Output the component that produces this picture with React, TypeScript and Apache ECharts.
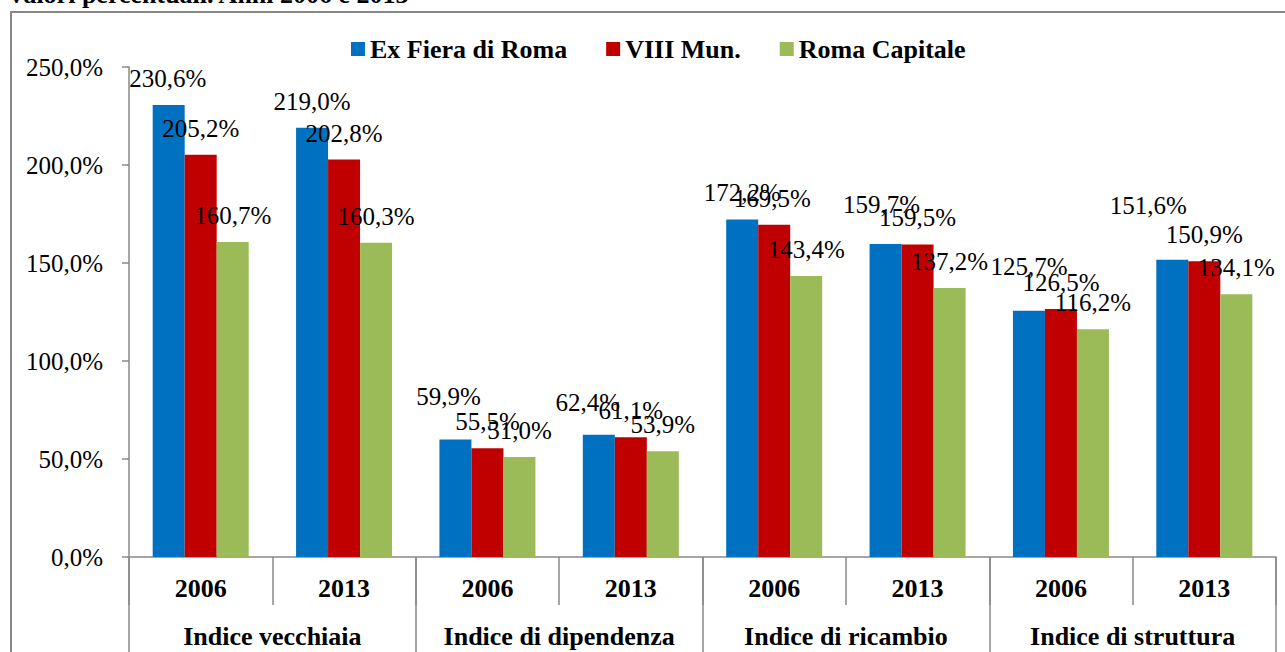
import React, { useEffect, useRef } from "react";
import * as echarts from "echarts";

const years = ["2006", "2013", "2006", "2013", "2006", "2013", "2006", "2013"];
const groups = ["Indice vecchiaia", "Indice di dipendenza", "Indice di ricambio", "Indice di struttura"];
const exFiera = [230.6, 219.0, 59.9, 62.4, 172.2, 159.7, 125.7, 151.6];
const viiiMun = [205.2, 202.8, 55.5, 61.1, 169.5, 159.5, 126.5, 150.9];
const romaCapitale = [160.7, 160.3, 51.0, 53.9, 143.4, 137.2, 116.2, 134.1];
const yTicks = [0, 50, 100, 150, 200, 250];

// label nudges (dx, dy) in pixels, as placed in the original chart
const exFieraNudge: [number, number][] = [[-1, 0], [0, 0], [-7, -17], [-11, -6], [0, 0], [-4, -13], [0, -18], [-24, -28]];
const viiiMunNudge: [number, number][] = [[0, 0], [0, 0], [0, 0], [0, 0], [-2, 0], [0, 0], [0, 0], [0, 0]];
const romaNudge: [number, number][] = [[0, 0], [0, 0], [0, 0], [0, 0], [0, 0], [0, 0], [0, 0], [0, 0]];

const FONT = "Liberation Serif";
const fmt = (v: number) => v.toFixed(1).replace(".", ",") + "%";

export default function App() {
  const ref = useRef<HTMLDivElement>(null);
  useEffect(() => {
    if (!ref.current) return;
    const chart = echarts.init(ref.current, null, { renderer: "svg" });
    const mk = (name: string, vals: number[], nudges: [number, number][], color: string) => ({
      name,
      type: "bar",
      barWidth: 32,
      barGap: "0%",
      itemStyle: { color },
      label: {
        show: true,
        position: "top",
        distance: 14,
        color: "#000",
        fontFamily: FONT,
        fontSize: 25,
        lineHeight: 25,
        formatter: (p: any) => fmt(p.value),
      },
      data: vals.map((v, i) => ({ value: v, label: { offset: nudges[i] } })),
    });
    chart.setOption({
      animation: false,
      graphic: [
        {
          type: "text",
          left: 7,
          top: -19,
          style: { text: "Valori percentuali. Anni 2006 e 2013", fontFamily: FONT, fontSize: 26, fontWeight: "bold", fill: "#000" },
        },
        {
          type: "rect",
          shape: { x: 11, y: 12, width: 1290, height: 700 },
          style: { fill: "none", stroke: "#888", lineWidth: 2 },
          silent: true,
        },
      ],
      legend: {
        top: 31,
        left: 346,
        itemWidth: 14,
        itemHeight: 14,
        itemGap: 39,
        icon: "rect",
        textStyle: { fontFamily: FONT, fontSize: 26, fontWeight: "bold", color: "#000" },
        data: ["Ex Fiera di Roma", "VIII Mun.", "Roma Capitale"],
      },
      grid: { left: 129, right: 9, top: 67, bottom: 95, containLabel: false },
      xAxis: [
        {
          type: "category",
          data: years,
          position: "bottom",
          axisLine: { show: true, lineStyle: { color: "#888", width: 1.5 } },
          axisTick: { show: true, interval: 0, length: 48, lineStyle: { color: "#888", width: 1.5 } },
          axisLabel: { interval: 0, margin: 18, fontFamily: FONT, fontSize: 26, fontWeight: "bold", color: "#000" },
        },
        {
          type: "category",
          data: groups,
          position: "bottom",
          axisLine: { show: false },
          axisTick: { show: true, interval: 0, length: 120, lineStyle: { color: "#888", width: 1.5 } },
          axisLabel: { interval: 0, margin: 66, fontFamily: FONT, fontSize: 26, fontWeight: "bold", color: "#000" },
        },
      ],
      yAxis: {
        type: "value",
        min: 0,
        max: 250,
        interval: 50,
        axisLine: { show: true, lineStyle: { color: "#888", width: 1.5 } },
        axisTick: { show: true, length: 7, lineStyle: { color: "#888", width: 1.5 } },
        splitLine: { show: false },
        axisLabel: {
          margin: 26,
          fontFamily: FONT,
          fontSize: 25,
          color: "#000",
          formatter: (v: number) => (yTicks.includes(v) ? fmt(v) : ""),
        },
      },
      series: [
        mk("Ex Fiera di Roma", exFiera, exFieraNudge, "#0070C0"),
        mk("VIII Mun.", viiiMun, viiiMunNudge, "#C00000"),
        mk("Roma Capitale", romaCapitale, romaNudge, "#9BBB59"),
      ],
    });
    return () => chart.dispose();
  }, []);
  return <div ref={ref} style={{ width: 1285, height: 652, position: "absolute", left: 0, top: 0 }} />;
}
